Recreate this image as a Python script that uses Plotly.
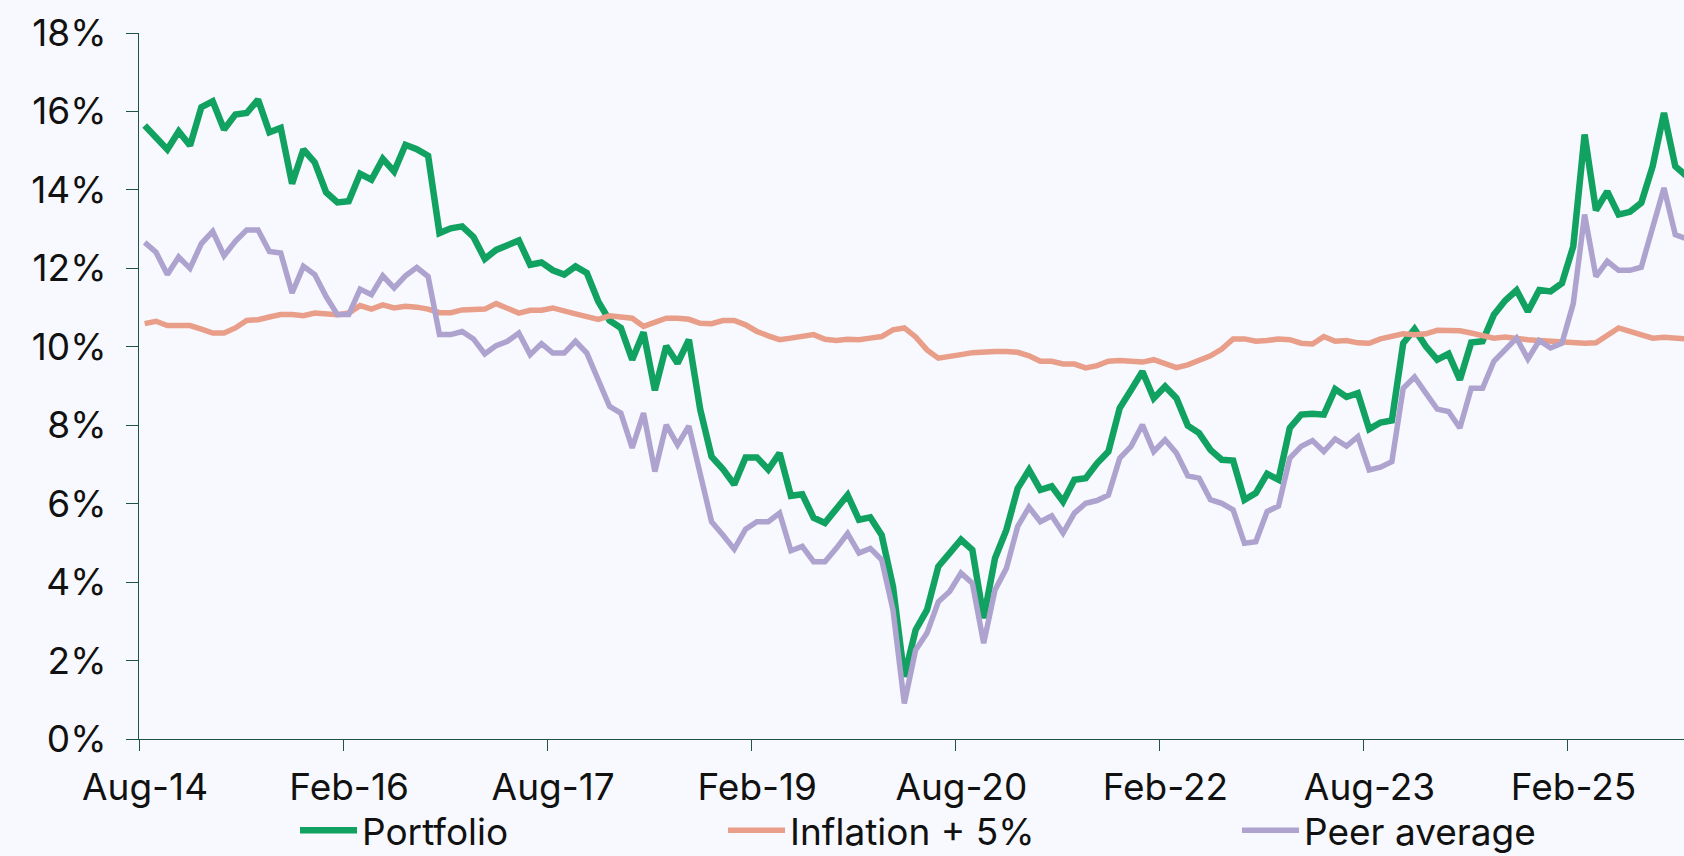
import plotly.graph_objects as go

# Monthly observations starting Aug-2014 (index 0)
portfolio = [
    15.64, 15.34, 15.03, 15.49, 15.13, 16.11, 16.26, 15.54, 15.92, 15.96,
    16.30, 15.47, 15.58, 14.16, 15.03, 14.70, 13.94, 13.68, 13.71, 14.41,
    14.26, 14.79, 14.47, 15.15, 15.04, 14.87, 12.90, 13.02, 13.07, 12.80,
    12.24, 12.47, 12.60, 12.71, 12.09, 12.15, 11.95, 11.84, 12.05, 11.88,
    11.16, 10.67, 10.48, 9.67, 10.37, 8.89, 10.02, 9.58, 10.18, 8.40,
    7.20, 6.88, 6.49, 7.18, 7.18, 6.87, 7.29, 6.20, 6.24, 5.64,
    5.51, 5.88, 6.22, 5.59, 5.65, 5.20, 3.89, 1.59, 2.78, 3.29,
    4.40, 4.74, 5.08, 4.82, 3.08, 4.61, 5.33, 6.39, 6.86, 6.35,
    6.44, 6.05, 6.61, 6.65, 7.03, 7.33, 8.44, 8.90, 9.37, 8.69,
    8.99, 8.69, 7.99, 7.80, 7.37, 7.12, 7.10, 6.10, 6.27, 6.76,
    6.61, 7.93, 8.27, 8.29, 8.27, 8.92, 8.72, 8.82, 7.90, 8.07,
    8.12, 10.09, 10.45, 10.01, 9.67, 9.82, 9.16, 10.11, 10.14, 10.82,
    11.18, 11.44, 10.90, 11.45, 11.41, 11.62, 12.56, 15.41, 13.48, 13.96,
    13.37, 13.44, 13.67, 14.60, 15.96, 14.60, 14.35,
]

inflation_plus_5 = [
    10.59, 10.65, 10.54, 10.54, 10.54, 10.45, 10.35, 10.35, 10.48, 10.67,
    10.69, 10.76, 10.82, 10.82, 10.79, 10.86, 10.83, 10.82, 10.86, 11.05,
    10.96, 11.07, 10.99, 11.03, 11.01, 10.96, 10.87, 10.87, 10.94, 10.96,
    10.96, 11.10, 10.99, 10.86, 10.93, 10.93, 10.99, 10.93, 10.84, 10.77,
    10.70, 10.79, 10.77, 10.73, 10.52, 10.62, 10.73, 10.73, 10.70, 10.60,
    10.59, 10.67, 10.67, 10.56, 10.39, 10.28, 10.18, 10.22, 10.27, 10.31,
    10.19, 10.16, 10.19, 10.18, 10.22, 10.26, 10.43, 10.48, 10.25, 9.92,
    9.71, 9.77, 9.80, 9.85, 9.88, 9.88, 9.88, 9.86, 9.77, 9.63,
    9.63, 9.56, 9.56, 9.46, 9.52, 9.63, 9.65, 9.63, 9.61, 9.67,
    9.57, 9.47, 9.54, 9.67, 9.77, 9.94, 10.20, 10.20, 10.14, 10.16,
    10.20, 10.18, 10.09, 10.07, 10.26, 10.14, 10.16, 10.10, 10.09, 10.20,
    10.25, 10.33, 10.31, 10.33, 10.42, 10.43, 10.41, 10.35, 10.28, 10.22,
    10.25, 10.20, 10.18, 10.16, 10.14, 10.10, 10.09, 10.09, 10.10, 10.31,
    10.48, 10.39, 10.31, 10.22, 10.24, 10.22, 10.20,
]

peer_average = [
    12.66, 12.41, 11.84, 12.29, 12.00, 12.63, 12.94, 12.32, 12.69, 12.98,
    12.98, 12.43, 12.39, 11.37, 12.05, 11.84, 11.28, 10.82, 10.82, 11.47,
    11.33, 11.81, 11.50, 11.81, 12.02, 11.79, 10.31, 10.31, 10.39, 10.20,
    9.82, 10.03, 10.14, 10.35, 9.80, 10.08, 9.84, 9.84, 10.14, 9.84,
    9.16, 8.48, 8.31, 7.42, 8.31, 6.82, 8.01, 7.50, 7.98, 6.78,
    5.54, 5.20, 4.84, 5.35, 5.54, 5.54, 5.76, 4.80, 4.91, 4.52,
    4.52, 4.86, 5.24, 4.74, 4.86, 4.57, 3.29, 0.91, 2.27, 2.70,
    3.50, 3.76, 4.23, 3.97, 2.44, 3.80, 4.35, 5.42, 5.91, 5.54,
    5.69, 5.25, 5.76, 6.01, 6.08, 6.22, 7.16, 7.46, 8.01, 7.33,
    7.63, 7.29, 6.71, 6.65, 6.10, 6.01, 5.84, 4.99, 5.03, 5.80,
    5.94, 7.16, 7.46, 7.61, 7.33, 7.65, 7.47, 7.71, 6.86, 6.93,
    7.07, 8.94, 9.23, 8.82, 8.41, 8.35, 7.93, 8.94, 8.94, 9.63,
    9.92, 10.22, 9.69, 10.16, 9.97, 10.09, 11.10, 13.37, 11.79, 12.18,
    11.95, 11.95, 12.03, 12.98, 14.05, 12.86, 12.75,
]

tick_labels = ["Aug-14", "Feb-16", "Aug-17", "Feb-19", "Aug-20", "Feb-22", "Aug-23", "Feb-25"]
tick_month_index = [0, 18, 36, 54, 72, 90, 108, 126]
y_ticks = [0, 2, 4, 6, 8, 10, 12, 14, 16, 18]

months = list(range(len(portfolio)))

GREEN = "#11A160"
ORANGE = "#E89E88"
PURPLE = "#AEA3CF"
AXIS = "#1F5444"
BG = "#F7F9FE"
FONT = "Inter"

fig = go.Figure()
fig.add_trace(go.Scatter(x=months, y=portfolio, mode="lines", name="Portfolio",
                         line=dict(color=GREEN, width=6.5), legend="legend"))
fig.add_trace(go.Scatter(x=months, y=inflation_plus_5, mode="lines", name="Inflation + 5%",
                         line=dict(color=ORANGE, width=5.5), legend="legend2"))
fig.add_trace(go.Scatter(x=months, y=peer_average, mode="lines", name="Peer average",
                         line=dict(color=PURPLE, width=5.5), legend="legend3"))

L, W = 139.0, 1684 - 139.0
PX_PER_MONTH = 11.338
def px_to_paper(px):
    return (px - L) / W

legend_common = dict(orientation="h", yanchor="middle", xanchor="left", y=-0.130,
                     font=dict(family=FONT, size=37, color="#111111"),
                     bgcolor="rgba(0,0,0,0)", itemwidth=57, borderwidth=0,
                     tracegroupgap=0)

fig.update_layout(
    width=1684, height=856,
    paper_bgcolor=BG, plot_bgcolor=BG,
    margin=dict(l=139, r=0, t=33, b=117, autoexpand=False),
    font=dict(family=FONT, size=37, color="#111111"),
    showlegend=True,
    legend=dict(x=px_to_paper(295), **legend_common),
    legend2=dict(x=px_to_paper(723), **legend_common),
    legend3=dict(x=px_to_paper(1237), **legend_common),
    xaxis=dict(
        range=[-0.5, -0.5 + W / PX_PER_MONTH],
        tickmode="array",
        tickvals=[m - 0.5 for m in tick_month_index],
        ticktext=tick_labels,
        showgrid=False, zeroline=False,
        showline=True, linecolor=AXIS, linewidth=1.2,
        ticks="outside", ticklen=11, tickwidth=1.2, tickcolor=AXIS,
        tickfont=dict(family=FONT, size=37, color="#111111"),
        ticklabelstandoff=4,
        ticklabelshift=6,
    ),
    yaxis=dict(
        range=[0, 18],
        tickmode="array",
        tickvals=y_ticks,
        ticktext=[f"{v}%" for v in y_ticks],
        showgrid=False, zeroline=False,
        showline=True, linecolor=AXIS, linewidth=1.2,
        ticks="outside", ticklen=12, tickwidth=1.2, tickcolor=AXIS,
        tickfont=dict(family=FONT, size=37, color="#111111"),
        ticklabelstandoff=12,
    ),
)

fig.write_html(
    "out.html",
    config={"displayModeBar": False},
    post_script="document.body.style.margin='0';document.body.style.overflow='hidden';",
)
